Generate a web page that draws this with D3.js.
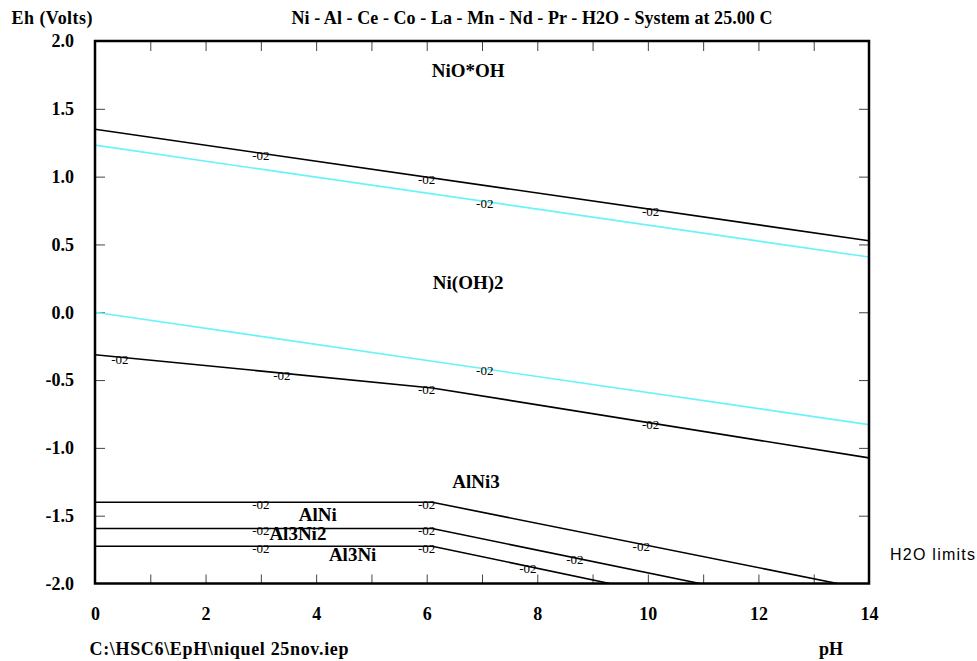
<!DOCTYPE html>
<html>
<head>
<meta charset="utf-8">
<script src="https://cdn.jsdelivr.net/npm/d3@7"></script>
<style>
  html, body { margin: 0; padding: 0; background: #fff; }
  svg { display: block; }
  .serif { font-family: "Liberation Serif", "Times New Roman", serif; }
</style>
</head>
<body>
<svg id="chart" width="977" height="661"></svg>
<script>
// Eh-pH diagram, Ni - Al - Ce - Co - La - Mn - Nd - Pr - H2O at 25 C

// axis ticks
const pHTicks = [0, 2, 4, 6, 8, 10, 12, 14];
const pHTickLabels = ["0", "2", "4", "6", "8", "10", "12", "14"];
const pHMinorTicks = [1, 2, 3, 4, 5, 6, 7, 8, 9, 10, 11, 12, 13];
const ehTicks = [2.0, 1.5, 1.0, 0.5, 0.0, -0.5, -1.0, -1.5, -2.0];
const ehTickLabels = ["2.0", "1.5", "1.0", "0.5", "0.0", "-0.5", "-1.0", "-1.5", "-2.0"];
const ehMinorTicks = [1.5, 1.0, 0.5, 0.0, -0.5, -1.0, -1.5];

// stability boundaries as [pH, Eh] vertices
const nioohUpper = [[0, 1.349], [14, 0.527]];
const waterUpper = [[0, 1.232], [14, 0.407]];
const waterLower = [[0, 0.0], [14, -0.829]];
const nioh2Lower = [[0, -0.313], [6.1, -0.558], [14, -1.074]];
const alni3Lower = [[0, -1.401], [6.1, -1.401], [13.43, -2.0]];
const alniLower = [[0, -1.595], [6.1, -1.595], [10.94, -2.0]];
const al3niLower = [[0, -1.725], [6.1, -1.725], [9.31, -2.0]];

// pH positions of the "-02" concentration tags along each boundary
const nioohUpperTags = [3.0, 6.0, 10.05];
const waterUpperTags = [7.05];
const waterLowerTags = [7.05];
const nioh2LowerTags = [0.45, 3.38, 6.0, 10.05];
const alni3LowerTags = [3.0, 6.0, 9.88];
const alniLowerTags = [3.0, 6.0, 8.68];
const al3niLowerTags = [3.0, 6.0, 7.83];
const tagText = "-02";

// phase field names, placed at [pH, Eh]
const phaseNames = ["NiO*OH", "Ni(OH)2", "AlNi3", "AlNi", "Al3Ni2", "Al3Ni"];
const phasePH = [6.75, 6.75, 6.89, 4.03, 3.67, 4.66];
const phaseEh = [1.735, 0.173, -1.293, -1.541, -1.676, -1.831];

const boundaries = [
  { pts: nioohUpper, tags: nioohUpperTags, color: "#000" },
  { pts: waterUpper, tags: waterUpperTags, color: "#66f4fa" },
  { pts: waterLower, tags: waterLowerTags, color: "#66f4fa" },
  { pts: nioh2Lower, tags: nioh2LowerTags, color: "#000" },
  { pts: alni3Lower, tags: alni3LowerTags, color: "#000" },
  { pts: alniLower, tags: alniLowerTags, color: "#000" },
  { pts: al3niLower, tags: al3niLowerTags, color: "#000" }
];

const svg = d3.select("#chart");
const plot = { left: 95, right: 869, top: 41, bottom: 583.5 };

const x = d3.scaleLinear().domain([0, 14]).range([plot.left, plot.right]);
const y = d3.scaleLinear().domain([-2, 2]).range([plot.bottom, plot.top]);

// Eh on a polyline at a given pH
function ehAt(pts, p) {
  for (let i = 1; i < pts.length; i++) {
    if (p <= pts[i][0]) {
      const [p0, e0] = pts[i - 1], [p1, e1] = pts[i];
      return e0 + (e1 - e0) * (p - p0) / (p1 - p0);
    }
  }
  return pts[pts.length - 1][1];
}

const tickColor = "#444";

// minor ticks on all four sides
const tickAxes = [
  { ax: d3.axisBottom(x).tickValues(pHMinorTicks).tickSize(-9), tr: `translate(0,${plot.bottom})` },
  { ax: d3.axisTop(x).tickValues(pHMinorTicks).tickSize(-10), tr: `translate(0,${plot.top})` },
  { ax: d3.axisLeft(y).tickValues(ehMinorTicks).tickSize(-10), tr: `translate(${plot.left},0)` },
  { ax: d3.axisRight(y).tickValues(ehMinorTicks).tickSize(-10), tr: `translate(${plot.right},0)` }
];
tickAxes.forEach(t => {
  const g = svg.append("g").attr("transform", t.tr).call(t.ax.tickFormat(""));
  g.select(".domain").remove();
  g.selectAll("line").attr("stroke", tickColor).attr("stroke-width", 1);
});

// tick labels
const xLab = svg.append("g")
  .attr("transform", `translate(0,${plot.bottom})`)
  .call(d3.axisBottom(x).tickValues(pHTicks).tickSize(0).tickPadding(24)
    .tickFormat((d, i) => pHTickLabels[i]));
xLab.select(".domain").remove();
xLab.selectAll("text")
  .attr("class", "serif").attr("font-family", null)
  .style("font-size", "18px").style("font-weight", "bold").attr("fill", "#000");

const yLab = svg.append("g")
  .attr("transform", `translate(${plot.left},0)`)
  .call(d3.axisLeft(y).tickValues(ehTicks).tickSize(0).tickPadding(21)
    .tickFormat((d, i) => ehTickLabels[i]));
yLab.select(".domain").remove();
yLab.selectAll("text")
  .attr("class", "serif").attr("font-family", null)
  .style("font-size", "18px").style("font-weight", "bold").attr("fill", "#000");

// boundary lines
const line = d3.line().x(d => x(d[0])).y(d => y(d[1]));
svg.append("defs").append("clipPath").attr("id", "plotClip")
  .append("rect").attr("x", plot.left).attr("y", plot.top)
  .attr("width", plot.right - plot.left).attr("height", plot.bottom - plot.top);

const lines = svg.append("g").attr("clip-path", "url(#plotClip)");
boundaries.forEach(b => {
  lines.append("path").datum(b.pts)
    .attr("d", line)
    .attr("fill", "none")
    .attr("stroke", b.color)
    .attr("stroke-width", 1.6);
});

// concentration tags
const tags = svg.append("g").attr("class", "serif")
  .style("font-size", "13px").attr("fill", "#000").attr("text-anchor", "middle");
boundaries.forEach(b => {
  b.tags.forEach(p => {
    tags.append("text")
      .attr("x", x(p))
      .attr("y", y(ehAt(b.pts, p)) + 6.5)
      .text(tagText);
  });
});

// frame
svg.append("rect")
  .attr("x", plot.left).attr("y", plot.top)
  .attr("width", plot.right - plot.left).attr("height", plot.bottom - plot.top)
  .attr("fill", "none").attr("stroke", "#000").attr("stroke-width", 2.5);

// phase field names
const names = svg.append("g").attr("class", "serif")
  .style("font-size", "19px").style("font-weight", "bold")
  .attr("fill", "#000").attr("text-anchor", "middle");
phaseNames.forEach((n, i) => {
  names.append("text").attr("x", x(phasePH[i])).attr("y", y(phaseEh[i])).text(n);
});

// titles
function label(txt, xp, yp, opts) {
  const t = svg.append("text").attr("class", "serif")
    .attr("x", xp).attr("y", yp).attr("fill", "#000")
    .style("font-size", "18px").style("font-weight", "bold").text(txt);
  if (opts && opts.anchor) t.attr("text-anchor", opts.anchor);
  if (opts && opts.len) t.attr("textLength", opts.len).attr("lengthAdjust", "spacing");
  return t;
}
label("Eh (Volts)", 11.5, 23.5, { len: 81 });
label("Ni - Al - Ce - Co - La - Mn - Nd - Pr - H2O - System at 25.00 C", 291.5, 23.5, { len: 481 });
label("C:\\HSC6\\EpH\\niquel 25nov.iep", 89.5, 655, { len: 259 });
label("pH", 831, 655, { anchor: "middle" });

svg.append("text")
  .attr("x", 890).attr("y", 560)
  .attr("font-family", "'Liberation Sans', Arial, sans-serif")
  .attr("font-size", 16).attr("fill", "#000")
  .attr("textLength", 85).attr("lengthAdjust", "spacing")
  .text("H2O limits");
</script>
</body>
</html>
